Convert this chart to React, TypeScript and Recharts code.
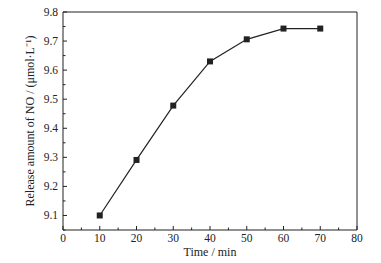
import { LineChart, Line, XAxis, YAxis, ReferenceLine } from "recharts";

const times = [10, 20, 30, 40, 50, 60, 70];
const noRelease = [9.1, 9.291, 9.478, 9.63, 9.706, 9.743, 9.743];
const xTicks = [0, 5, 10, 15, 20, 25, 30, 35, 40, 45, 50, 55, 60, 65, 70, 75, 80];
const yTicks = [9.05, 9.1, 9.15, 9.2, 9.25, 9.3, 9.35, 9.4, 9.45, 9.5, 9.55, 9.6, 9.65, 9.7, 9.75, 9.8];

const data = times.map((t, i) => ({ time: t, no: noRelease[i] }));

const FONT = '"Liberation Serif", "Times New Roman", serif';
const INK = "#222";

const isMajor = (v: number, step: number) => Math.abs(v / step - Math.round(v / step)) < 1e-6;

function XTick(props: any) {
  const { x, y, payload } = props;
  const major = isMajor(payload.value, 10);
  return (
    <g>
      <line x1={x} x2={x} y1={y} y2={y - (major ? 4 : 2.5)} stroke={INK} strokeWidth={1} />
      {major && (
        <text x={x} y={y + 12} textAnchor="middle" fontSize={11.5} fontFamily={FONT} fill={INK}>
          {payload.value}
        </text>
      )}
    </g>
  );
}

function YTick(props: any) {
  const { x, y, payload } = props;
  const major = isMajor(payload.value, 0.1);
  return (
    <g>
      <line x1={x} x2={x + (major ? 4 : 2.5)} y1={y} y2={y} stroke={INK} strokeWidth={1} />
      {major && (
        <text x={x - 5} y={y + 4} textAnchor="end" fontSize={11.5} fontFamily={FONT} fill={INK}>
          {payload.value.toFixed(1)}
        </text>
      )}
    </g>
  );
}

function Square(props: any) {
  const { cx, cy } = props;
  return <rect x={cx - 3} y={cy - 3} width={6} height={6} fill={INK} />;
}

export default function App() {
  return (
    <div style={{ position: "absolute", left: 0, top: 0, background: "#fff" }}>
      <LineChart
        width={381}
        height={263}
        data={data}
        margin={{ top: 12, right: 24, left: 0, bottom: 0 }}
      >
        <XAxis
          dataKey="time"
          type="number"
          domain={[0, 80]}
          ticks={xTicks}
          interval={0}
          height={33}
          tickSize={0}
          tickMargin={0}
          tickLine={false}
          axisLine={{ stroke: INK, strokeWidth: 1 }}
          tick={<XTick />}
          label={{
            value: "Time / min",
            position: "insideBottom",
            offset: 7,
            style: { fontFamily: FONT, fontSize: 12, fill: INK },
          }}
        />
        <YAxis
          type="number"
          domain={[9.05, 9.8]}
          ticks={yTicks}
          interval={0}
          width={63}
          tickSize={0}
          tickMargin={0}
          tickLine={false}
          axisLine={{ stroke: INK, strokeWidth: 1 }}
          tick={<YTick />}
          label={{
            value: "Release amount of NO / (μmol·L⁻¹)",
            angle: -90,
            position: "insideLeft",
            offset: 30,
            style: { fontFamily: FONT, fontSize: 12, fill: INK, textAnchor: "middle" },
          }}
        />
        <ReferenceLine y={9.8} stroke={INK} strokeWidth={1} />
        <ReferenceLine x={80} stroke={INK} strokeWidth={1} />
        <Line
          dataKey="no"
          type="linear"
          stroke={INK}
          strokeWidth={1.2}
          dot={<Square />}
          activeDot={false}
          isAnimationActive={false}
        />
      </LineChart>
    </div>
  );
}
